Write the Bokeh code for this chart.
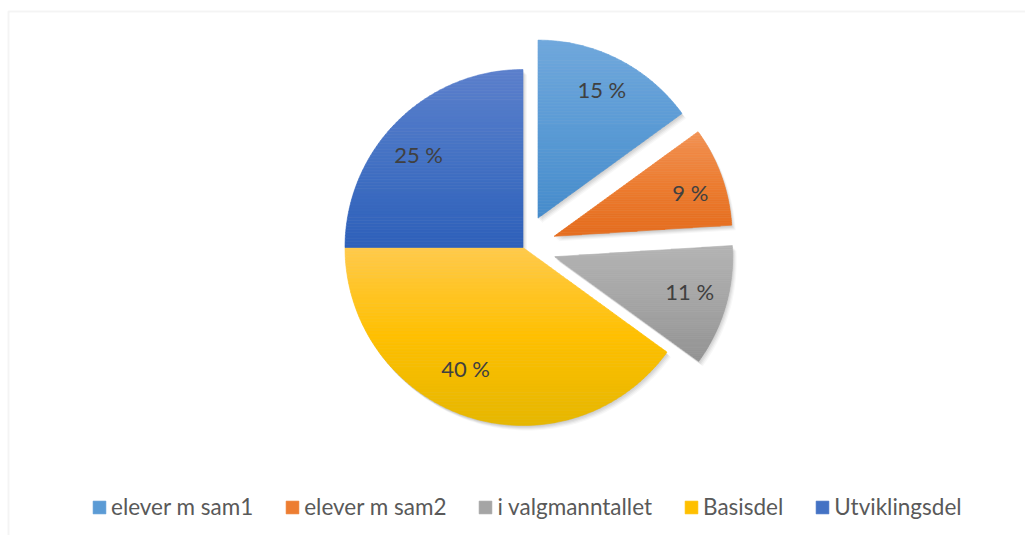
import numpy as np
from bokeh.plotting import figure
from bokeh.models import Range1d, ColumnDataSource, Legend, LegendItem, BoxAnnotation
from bokeh.embed import file_html
from bokeh.resources import INLINE
from bokeh.core.properties import value

# ---- data ----
categories = ["elever m sam1", "elever m sam2", "i valgmanntallet", "Basisdel", "Utviklingsdel"]
shares = [15, 9, 11, 40, 25]
labels = ["15 %", "9 %", "11 %", "40 %", "25 %"]

# ---- style ----
top_colors = ["#70a8dc", "#f29254", "#b4b4b4", "#ffca4c", "#5c80cc"]
mid_colors = ["#5b9bd5", "#ed7d31", "#a5a5a5", "#ffc000", "#4472c4"]
bot_colors = ["#468ccc", "#e56d1e", "#939393", "#e6b700", "#2e60ba"]
explode_px = [33, 33, 33, 0, 0]
label_nudge = [(0, 3), (4, -4), (0, 4), (-14, 13), (-5, -6)]
CX, CY, R = 522.5, 288.0, 178.0
N_BANDS = 60


def hex2rgb(h):
    h = h.lstrip("#")
    return np.array([int(h[i:i + 2], 16) for i in (0, 2, 4)], dtype=float)


def rgb2hex(c):
    c = np.clip(np.round(c), 0, 255).astype(int)
    return "#%02x%02x%02x" % tuple(c)


def grad(t, a, b, c):
    a, b, c = hex2rgb(a), hex2rgb(b), hex2rgb(c)
    if t < 0.5:
        return rgb2hex(a + (b - a) * (t / 0.5))
    return rgb2hex(b + (c - b) * ((t - 0.5) / 0.5))


def clip(poly, y, keep_above):
    out = []
    n = len(poly)
    for i in range(n):
        P, Q = poly[i], poly[(i + 1) % n]
        inP = P[1] >= y if keep_above else P[1] <= y
        inQ = Q[1] >= y if keep_above else Q[1] <= y
        if inP:
            out.append(P)
        if inP != inQ:
            t = (y - P[1]) / (Q[1] - P[1])
            out.append((P[0] + t * (Q[0] - P[0]), y))
    return out


p = figure(width=1025, height=535, x_range=Range1d(0, 1025), y_range=Range1d(0, 535),
           output_backend="svg", toolbar_location=None, min_border=0,
           x_axis_location=None, y_axis_location=None)
p.grid.visible = False
p.outline_line_color = None
p.background_fill_color = "white"

p.add_layout(BoxAnnotation(left=8, right=1200, top=524, bottom=-200, fill_alpha=0,
                           line_color="#d9d9d9", line_width=2))

total = float(sum(shares))
cum = np.concatenate([[0], np.cumsum(shares)]) / total * 2 * np.pi

polys = []
centers = []
for i in range(len(shares)):
    a0, a1 = cum[i], cum[i + 1]
    mid = (a0 + a1) / 2
    cx = CX + explode_px[i] * np.sin(mid)
    cy = CY + explode_px[i] * np.cos(mid)
    th = np.linspace(a0, a1, 120)
    pts = [(cx, cy)] + [(cx + R * np.sin(t), cy + R * np.cos(t)) for t in th]
    polys.append(pts)
    centers.append((cx, cy, mid))

# shadows
for dx, dy, al in [(0, -1, 0.05), (1, -2, 0.05), (2, -3, 0.05), (3, -4, 0.04), (4, -5, 0.03)]:
    p.patches(xs=[[q[0] + dx for q in pl] for pl in polys],
              ys=[[q[1] + dy for q in pl] for pl in polys],
              fill_color="black", fill_alpha=al, line_color=None)

items = []
for i, pl in enumerate(polys):
    ys_all = [q[1] for q in pl]
    ymin, ymax = min(ys_all), max(ys_all)
    h = (ymax - ymin) / N_BANDS
    xs, ys, cols = [], [], []
    for k in range(N_BANDS):
        y1 = ymax - k * h
        y0 = ymax - (k + 1) * h
        band = clip(clip(pl, y0 - 0.01, True), y1 + 0.01, False)
        if len(band) < 3:
            continue
        xs.append([q[0] for q in band])
        ys.append([q[1] for q in band])
        cols.append(grad((k + 0.5) / N_BANDS, top_colors[i], mid_colors[i], bot_colors[i]))
    src = ColumnDataSource(dict(xs=xs, ys=ys, c=cols))
    r = p.patches("xs", "ys", source=src, fill_color="c", line_color="c", line_width=0.6)
    items.append(LegendItem(label=categories[i], renderers=[r], index=len(cols) // 2))

lx, ly = [], []
for (cx, cy, mid), (nx, ny) in zip(centers, label_nudge):
    lx.append(cx + 0.79 * R * np.sin(mid) + nx)
    ly.append(cy + 0.79 * R * np.cos(mid) + ny)
p.text(x=lx, y=ly, text=labels, text_align="center", text_baseline="middle",
       text_font=value("Lato"), text_font_size="22px", text_color="#404040")

legend = Legend(items=items, orientation="horizontal", location=(91, 15),
                glyph_width=16, glyph_height=16, label_standoff=4, spacing=31,
                padding=0, margin=0, border_line_color=None, background_fill_alpha=0,
                label_text_font="Lato", label_text_font_size="22.5px",
                label_text_color="#595959", label_height=26)
p.add_layout(legend)

open("out.html", "w").write(file_html(p, INLINE))
